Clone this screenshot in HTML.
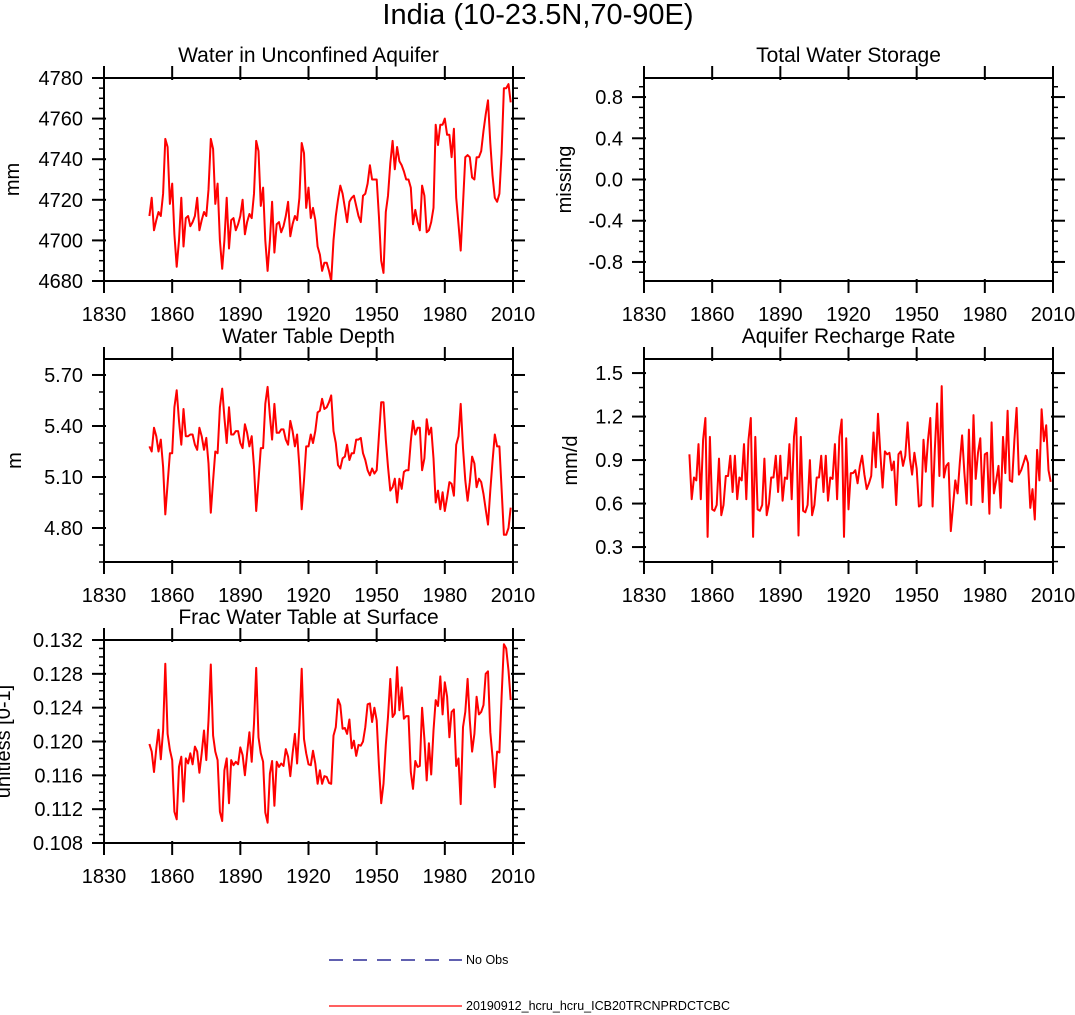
<!DOCTYPE html>
<html><head><meta charset="utf-8"><style>
html,body{margin:0;padding:0;background:#fff;}
svg{display:block;font-family:"Liberation Sans",Arial,sans-serif;}
</style></head><body>
<svg id="fig" width="1075" height="1015" viewBox="0 0 1075 1015" xmlns="http://www.w3.org/2000/svg">
<text x="538" y="24" text-anchor="middle" font-size="29">India (10-23.5N,70-90E)</text>
<g>
<line x1="329" y1="960" x2="462" y2="960" stroke="#000080" stroke-width="1.2" stroke-dasharray="14,10"/>
<text x="466" y="964" font-size="12.5">No Obs</text>
<line x1="329" y1="1006" x2="462" y2="1006" stroke="#ff0000" stroke-width="1.2"/>
<text x="466" y="1010" font-size="12.5">20190912_hcru_hcru_ICB20TRCNPRDCTCBC</text>
</g>
</svg>
<script>
const startYear = 1850;
const xTicks = [1830, 1860, 1890, 1920, 1950, 1980, 2010];
const waterAquifer = [4712,4721,4705,4710,4714,4712,4723,4750,4746,4718,
4728,4703,4687,4700,4721,4697,4711,4712,4707,4709,
4712,4721,4705,4710,4714,4712,4725,4750,4745,4718,
4728,4700,4686,4700,4721,4696,4710,4711,4705,4708,
4712,4720,4703,4709,4713,4711,4723,4749,4744,4717,
4726,4700,4685,4700,4719,4694,4708,4709,4704,4707,
4712,4719,4702,4708,4712,4710,4721,4748,4743,4716,
4726,4711,4716,4710,4697,4693,4685,4689,4689,4685,
4680,4700,4712,4720,4727,4723,4716,4709,4719,4721,
4722,4717,4712,4709,4722,4723,4728,4737,4730,4730,
4730,4712,4690,4684,4714,4722,4738,4749,4735,4746,
4739,4737,4734,4730,4730,4726,4708,4715,4709,4705,
4727,4722,4704,4705,4709,4716,4757,4747,4757,4757,
4760,4752,4752,4741,4755,4721,4708,4695,4718,4741,
4742,4741,4731,4730,4741,4741,4744,4754,4762,4769,
4748,4732,4721,4719,4723,4743,4775,4775,4777,4768];
const waterTableDepth = [5.28,5.25,5.39,5.34,5.25,5.32,5.16,4.88,5.06,5.24,
5.24,5.51,5.61,5.43,5.29,5.50,5.34,5.34,5.35,5.35,
5.29,5.26,5.39,5.34,5.26,5.33,5.18,4.89,5.08,5.25,
5.24,5.51,5.62,5.45,5.30,5.51,5.35,5.35,5.37,5.37,
5.30,5.27,5.41,5.36,5.28,5.34,5.16,4.90,5.08,5.27,
5.27,5.53,5.63,5.46,5.32,5.53,5.36,5.36,5.38,5.38,
5.32,5.29,5.43,5.37,5.28,5.35,5.16,4.91,5.08,5.28,
5.28,5.35,5.30,5.37,5.48,5.49,5.56,5.50,5.51,5.54,
5.58,5.37,5.30,5.17,5.15,5.21,5.22,5.29,5.20,5.24,
5.24,5.32,5.32,5.33,5.24,5.20,5.14,5.11,5.15,5.12,
5.14,5.34,5.54,5.54,5.32,5.16,5.02,5.04,5.09,4.95,
5.09,5.03,5.13,5.14,5.14,5.31,5.43,5.35,5.39,5.39,
5.14,5.21,5.44,5.35,5.39,5.21,4.95,5.02,4.91,5.01,
4.90,4.98,5.07,5.06,4.99,5.29,5.34,5.53,5.27,5.08,
4.96,5.07,5.22,5.18,5.04,5.09,5.07,5.00,4.91,4.82,
5.02,5.19,5.35,5.28,5.28,5.03,4.76,4.76,4.80,4.92];
const rechargeRate = [0.94,0.63,0.78,0.76,1.01,0.63,1.04,1.19,0.37,1.06,
0.56,0.55,0.59,0.91,0.52,0.59,0.79,0.79,0.93,0.68,
0.93,0.63,0.78,0.76,1.01,0.63,1.04,1.19,0.37,1.06,
0.56,0.55,0.59,0.91,0.52,0.60,0.78,0.78,0.93,0.68,
0.93,0.62,0.78,0.77,1.01,0.63,1.06,1.19,0.38,1.06,
0.55,0.54,0.59,0.90,0.52,0.59,0.78,0.78,0.93,0.68,
0.93,0.62,0.78,0.77,1.01,0.63,1.06,1.18,0.37,1.05,
0.56,0.81,0.81,0.83,0.74,0.86,0.93,0.80,0.70,0.74,
0.79,1.09,0.85,1.22,0.95,0.71,0.96,0.94,0.95,0.83,
0.89,0.59,0.94,0.96,0.86,0.93,1.16,0.91,0.80,0.95,
0.84,0.58,0.59,1.04,0.82,1.04,1.19,0.58,0.97,1.29,
0.79,1.41,0.78,0.86,0.88,0.41,0.58,0.76,0.67,0.88,
1.07,0.81,0.60,1.11,0.59,1.21,0.77,0.95,1.05,0.61,
0.94,0.95,0.53,1.16,0.67,0.76,0.86,0.57,1.06,0.81,
1.24,0.76,0.75,1.04,1.26,0.80,0.83,0.88,0.93,0.88,
0.57,0.70,0.49,0.97,0.76,1.25,1.03,1.14,0.83,0.75];
const fracSurface = [0.1197,0.1188,0.1164,0.1192,0.1214,0.1179,0.1213,0.1292,0.1209,0.1190,
0.1178,0.1117,0.1108,0.1170,0.1182,0.1129,0.1180,0.1174,0.1186,0.1173,
0.1194,0.1188,0.1163,0.1186,0.1213,0.1178,0.1225,0.1291,0.1207,0.1188,
0.1178,0.1117,0.1106,0.1166,0.1180,0.1127,0.1178,0.1172,0.1176,0.1173,
0.1193,0.1184,0.1160,0.1186,0.1211,0.1176,0.1221,0.1287,0.1205,0.1186,
0.1176,0.1116,0.1104,0.1162,0.1177,0.1124,0.1176,0.1170,0.1174,0.1171,
0.1191,0.1182,0.1159,0.1186,0.1209,0.1174,0.1219,0.1286,0.1203,0.1186,
0.1173,0.1172,0.1189,0.1174,0.1150,0.1166,0.1150,0.1159,0.1158,0.1151,
0.1150,0.1207,0.1217,0.1250,0.1243,0.1215,0.1216,0.1209,0.1226,0.1192,
0.1201,0.1183,0.1196,0.1195,0.1200,0.1217,0.1244,0.1245,0.1223,0.1240,
0.1225,0.1172,0.1127,0.1150,0.1196,0.1229,0.1274,0.1229,0.1233,0.1288,
0.1237,0.1264,0.1227,0.1230,0.1230,0.1164,0.1144,0.1177,0.1170,0.1171,
0.1240,0.1203,0.1154,0.1198,0.1161,0.1213,0.1249,0.1242,0.1277,0.1232,
0.1270,0.1253,0.1205,0.1235,0.1238,0.1171,0.1180,0.1126,0.1217,0.1235,
0.1274,0.1225,0.1188,0.1209,0.1253,0.1232,0.1235,0.1243,0.1280,0.1283,
0.1211,0.1182,0.1146,0.1188,0.1187,0.1253,0.1315,0.1310,0.1284,0.1249];

const NS = "http://www.w3.org/2000/svg";
const svg = document.getElementById('fig');
function mk(tag, attrs, parent) {
  const e = document.createElementNS(NS, tag);
  for (const k in attrs) e.setAttribute(k, attrs[k]);
  (parent || svg).appendChild(e);
  return e;
}
const panels = [
  {key:'water-aquifer', title:'Water in Unconfined Aquifer', ylab:'mm', ylx:12, x0:104, x1:513, y0:78, y1:281, ymin:4680, ymax:4780, major:20, minor:5, dec:0, data:waterAquifer},
  {key:'total-water-storage', title:'Total Water Storage', ylab:'missing', ylx:564, x0:644, x1:1053, y0:78, y1:281, ymin:-0.985, ymax:0.985, major:0.4, minor:0.1, dec:1, data:null, majStart:-0.8},
  {key:'water-table-depth', title:'Water Table Depth', ylab:'m', ylx:14, x0:104, x1:513, y0:359, y1:562, ymin:4.6, ymax:5.794, major:0.3, minor:0.1, dec:2, data:waterTableDepth, majStart:4.8},
  {key:'recharge-rate', title:'Aquifer Recharge Rate', ylab:'mm/d', ylx:570, x0:644, x1:1053, y0:359, y1:562, ymin:0.197, ymax:1.597, major:0.3, minor:0.1, dec:1, data:rechargeRate, majStart:0.3},
  {key:'frac-water-table', title:'Frac Water Table at Surface', ylab:'unitless [0-1]', ylx:3, x0:104, x1:513, y0:640, y1:843, ymin:0.108, ymax:0.132, major:0.004, minor:0.001, dec:3, data:fracSurface}
];
panels.forEach(p => {
  const g = mk('g', {});
  
  
  const xs = yr => p.x0 + (yr - 1830) / 180 * (p.x1 - p.x0);
  const ys = v => p.y1 - (v - p.ymin) / (p.ymax - p.ymin) * (p.y1 - p.y0);
  const t = mk('text', {x:(p.x0+p.x1)/2, y:p.y0-16, 'text-anchor':'middle', 'font-size':21}, g);
  t.textContent = p.title;
  
  
  const yt = mk('text', {x:0, y:0, 'text-anchor':'middle', 'font-size':20, transform:`translate(${p.ylx+7},${(p.y0+p.y1)/2}) rotate(-90)`}, g);
  yt.textContent = p.ylab;
  
  
  const eps = 1e-9;
  const ms = Math.ceil((p.ymin - eps) / p.minor) * p.minor;
  for (let v = ms; v <= p.ymax + eps; v += p.minor) {
    const y = ys(v);
    const l1 = mk('line', {x1:p.x0-5, y1:y, x2:p.x0, y2:y, stroke:'#000', 'stroke-width':1.5}, g);
    
    
    const l2 = mk('line', {x1:p.x1, y1:y, x2:p.x1+5, y2:y, stroke:'#000', 'stroke-width':1.5}, g);
    
    
  }
  const st = p.majStart !== undefined ? p.majStart : p.ymin;
  for (let v = st; v <= p.ymax + eps; v += p.major) {
    const y = ys(v);
    const l1 = mk('line', {x1:p.x0-12, y1:y, x2:p.x0+2, y2:y, stroke:'#000', 'stroke-width':2}, g);
    
    
    const l2 = mk('line', {x1:p.x1-2, y1:y, x2:p.x1+12, y2:y, stroke:'#000', 'stroke-width':2}, g);
    
    
    const lab = mk('text', {x:p.x0-21, y:y+7, 'text-anchor':'end', 'font-size':20}, g);
    lab.textContent = (Math.abs(v) < eps ? 0 : v).toFixed(p.dec);
    
    
  }
  xTicks.forEach(yr => {
    const x = xs(yr);
    const l1 = mk('line', {x1:x, y1:p.y1-2, x2:x, y2:p.y1+12, stroke:'#000', 'stroke-width':2}, g);
    
    
    const l2 = mk('line', {x1:x, y1:p.y0-12, x2:x, y2:p.y0+2, stroke:'#000', 'stroke-width':2}, g);
    
    
    const lab = mk('text', {x:x, y:p.y1+40, 'text-anchor':'middle', 'font-size':20}, g);
    lab.textContent = yr;
    
    
  });
  if (p.data) {
    const pts = p.data.map((v, i) => xs(startYear + i).toFixed(1) + ',' + ys(v).toFixed(1)).join(' ');
    const pl = mk('polyline', {points:pts, fill:'none', stroke:'#ff0000', 'stroke-width':2, 'stroke-linejoin':'round'}, g);
    
    
  }
  const fr = mk('rect', {x:p.x0, y:p.y0, width:p.x1-p.x0, height:p.y1-p.y0, fill:'none', stroke:'#000', 'stroke-width':2}, g);
  
  
});
</script>
</body></html>
